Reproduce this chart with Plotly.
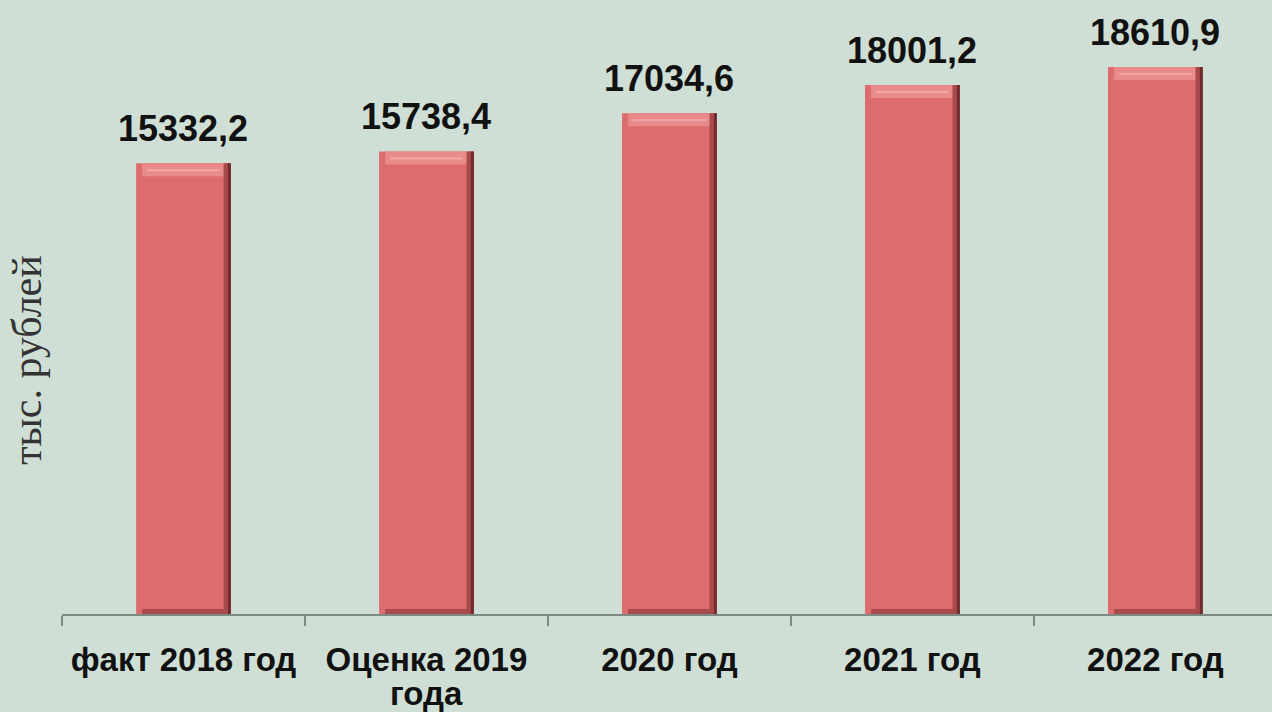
import plotly.graph_objects as go

categories = ["факт 2018 год", "Оценка 2019<br>года", "2020 год", "2021 год", "2022 год"]
values = [15332.2, 15738.4, 17034.6, 18001.2, 18610.9]
labels = [f"{v:.1f}".replace(".", ",") for v in values]

BG = "#cfdfd5"
BAR = "#dd6c6e"
PX = 34.0  # data units per pixel on the value axis

first_lines = [c.split("<br>")[0] for c in categories]
second_lines = [c.split("<br>")[1] if "<br>" in c else "" for c in categories]

fig = go.Figure()
# main bar body
fig.add_trace(go.Bar(x=categories, y=values, width=0.39,
                     marker=dict(color=BAR, line=dict(width=0)), hoverinfo="skip"))
# top bevel
fig.add_trace(go.Bar(x=categories, y=[13 * PX] * 5, base=[v - 13 * PX for v in values],
                     width=0.34, marker=dict(color="#e98a8b", line=dict(width=0)), hoverinfo="skip"))
fig.add_trace(go.Bar(x=categories, y=[2 * PX] * 5, base=[v - 8 * PX for v in values],
                     width=0.30, marker=dict(color="#f3a6a6", line=dict(width=0)), hoverinfo="skip"))
# bottom dark band
fig.add_trace(go.Bar(x=categories, y=[5 * PX] * 5, base=[0] * 5,
                     width=0.34, marker=dict(color="#a94a4c", line=dict(width=0)), hoverinfo="skip"))
# right shaded edge
fig.add_trace(go.Bar(x=categories, y=values, width=0.03, offset=0.165,
                     marker=dict(color="#a84a4c", line=dict(width=0)), hoverinfo="skip"))
fig.add_trace(go.Bar(x=categories, y=values, width=0.012, offset=0.183,
                     marker=dict(color="#6f2c2e", line=dict(width=0)), hoverinfo="skip"))

for c, v, t in zip(categories, values, labels):
    fig.add_annotation(x=c, y=v, text=f"<b>{t}</b>", showarrow=False,
                       yanchor="bottom", yshift=12,
                       font=dict(family="Liberation Sans, Arial", size=36, color="#111111"))

# second lines of category labels (tighter line spacing than plotly's default)
for c, s in zip(categories, second_lines):
    if s:
        fig.add_annotation(x=c, yref="paper", y=0, text=f"<b>{s}</b>", showarrow=False,
                           yanchor="middle", yshift=-79,
                           font=dict(family="Liberation Sans, Arial", size=33, color="#111111"))

fig.add_annotation(xref="paper", yref="paper", x=-35 / 1210, y=0.414,
                   text="тыс. рублей", textangle=-90, showarrow=False,
                   xanchor="center", yanchor="middle",
                   font=dict(family="Liberation Serif, Times New Roman", size=42, color="#333333"))

fig.update_layout(
    width=1272, height=712,
    paper_bgcolor=BG, plot_bgcolor=BG,
    margin=dict(l=62, r=0, t=0, b=98),
    barmode="overlay",
    showlegend=False,
    xaxis=dict(
        type="category", range=[-0.5, 4.48],
        showline=True, linecolor="#7d8a84", linewidth=2,
        ticks="outside", tickson="boundaries", ticklen=10, tickcolor="#7d8a84", tickwidth=1.5,
        tickfont=dict(family="Liberation Sans, Arial", size=33, color="#111111"),
        ticklabelstandoff=15,
        tickvals=categories, ticktext=[f"<b>{s}</b>" for s in first_lines],
        showgrid=False,
    ),
    yaxis=dict(range=[0, 20890], visible=False, showgrid=False),
)

fig.write_html("out.html", config={"displayModeBar": False},
               post_script="document.body.style.margin='0';")
